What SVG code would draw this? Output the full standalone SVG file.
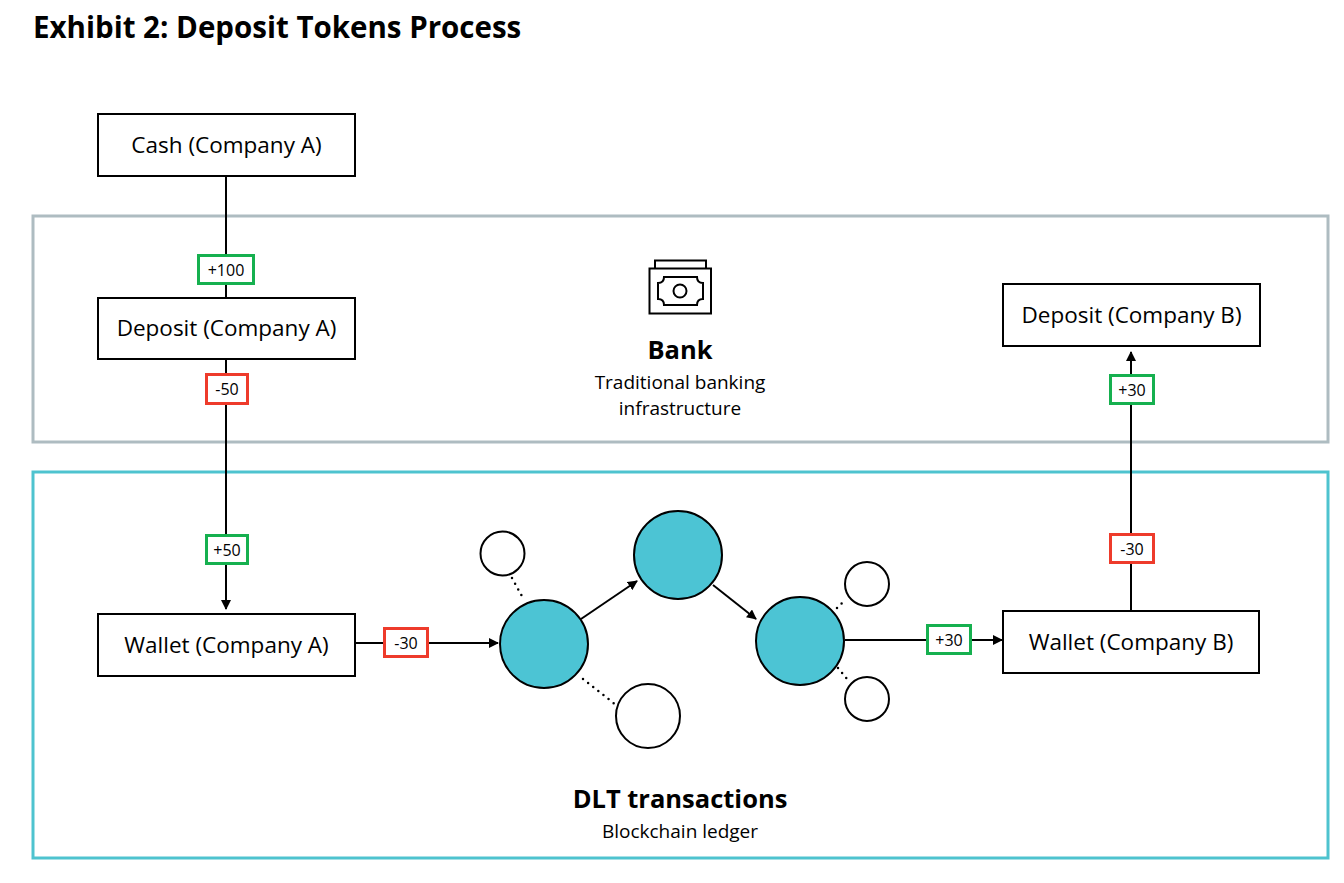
<svg xmlns="http://www.w3.org/2000/svg" width="1344" height="883" viewBox="0 0 1344 883">
<style>
text{font-family:"Open Sans","Noto Sans","Liberation Sans",sans-serif;fill:#000}
.box{fill:#fff;stroke:#000;stroke-width:2}
.lbl{font-size:22.5px;text-anchor:middle;dominant-baseline:central}
.tag{fill:#fff;stroke-width:3}
.g{stroke:#16b04f}
.r{stroke:#ee3b2b}
.tagt{font-size:16px;text-anchor:middle;dominant-baseline:central}
.ln{stroke:#000;stroke-width:2;fill:none}
.dot{stroke:#000;stroke-width:2.5;fill:none;stroke-dasharray:0 6.5;stroke-linecap:round}
.big{fill:#4cc4d4;stroke:#000;stroke-width:2}
.sm{fill:#fff;stroke:#000;stroke-width:2}
.h{font-size:25.5px;font-weight:bold;text-anchor:middle}
.sub{font-size:19px;text-anchor:middle}
</style>
<defs>
<marker id="arr" markerWidth="10" markerHeight="10" refX="9" refY="5" orient="auto" markerUnits="userSpaceOnUse">
<path d="M0,0 L10,5 L0,10 Z" fill="#000"/>
</marker>
</defs>
<rect width="1344" height="883" fill="#fff"/>
<text x="33" y="38" style="font-size:29.5px;font-weight:bold">Exhibit 2: Deposit Tokens Process</text>

<g id="bank-panel">
<rect x="33" y="216" width="1295" height="226" fill="none" stroke="#aebcc1" stroke-width="3"/>
<g id="bank-icon" fill="none" stroke="#000" stroke-width="2">
<rect x="649.5" y="268.5" width="61.5" height="45"/>
<polyline points="655,268.5 655,260.5 706,260.5 706,268.5"/>
<path d="M664,277 L697,277 Q697,283 703,283 L703,299 Q697,299 697,305 L664,305 Q664,299 658,299 L658,283 Q664,283 664,277 Z"/>
<circle cx="680" cy="291" r="6.5"/>
</g>
<text x="680" y="359" class="h">Bank</text>
<text x="680" y="389" class="sub">Traditional banking</text>
<text x="680" y="415" class="sub">infrastructure</text>
</g>

<g id="dlt-panel">
<rect x="33" y="472" width="1295" height="386" fill="none" stroke="#4ec3cf" stroke-width="3"/>
<text x="680" y="808" class="h">DLT transactions</text>
<text x="680" y="838" class="sub">Blockchain ledger</text>
</g>

<g id="connectors">
<line x1="226" y1="176" x2="226" y2="298" class="ln"/>
<line x1="226" y1="359" x2="226" y2="609" class="ln" marker-end="url(#arr)"/>
<line x1="355" y1="643" x2="498" y2="643" class="ln" marker-end="url(#arr)"/>
<line x1="581" y1="619" x2="637" y2="581" class="ln" marker-end="url(#arr)"/>
<line x1="713" y1="585" x2="756" y2="619" class="ln" marker-end="url(#arr)"/>
<line x1="845" y1="640" x2="1002" y2="640" class="ln" marker-end="url(#arr)"/>
<line x1="1131" y1="611" x2="1131" y2="352" class="ln" marker-end="url(#arr)"/>
<line x1="512" y1="578" x2="524" y2="600" class="dot"/>
<line x1="583" y1="679" x2="616" y2="705" class="dot"/>
<line x1="837" y1="608" x2="845" y2="600" class="dot"/>
<line x1="838" y1="668" x2="847" y2="679" class="dot"/>
<g id="tag-p100"><rect x="198.5" y="255.5" width="55" height="28" class="tag g"/><text x="226" y="269.5" class="tagt">+100</text></g>
<g id="tag-m50"><rect x="206.5" y="374.5" width="41" height="29" class="tag r"/><text x="227" y="389" class="tagt">-50</text></g>
<g id="tag-p50"><rect x="206.5" y="535.5" width="41" height="28" class="tag g"/><text x="227" y="549.5" class="tagt">+50</text></g>
<g id="tag-m30a"><rect x="384.5" y="628.5" width="43" height="28" class="tag r"/><text x="406" y="642.5" class="tagt">-30</text></g>
<g id="tag-p30a"><rect x="927.5" y="625.5" width="43" height="28" class="tag g"/><text x="949" y="639.5" class="tagt">+30</text></g>
<g id="tag-m30b"><rect x="1110.5" y="534.5" width="43" height="28" class="tag r"/><text x="1132" y="548.5" class="tagt">-30</text></g>
<g id="tag-p30b"><rect x="1110.5" y="375.5" width="43" height="28" class="tag g"/><text x="1132" y="389.5" class="tagt">+30</text></g>
</g>

<g id="cash-a"><rect x="98" y="114" width="257" height="62" class="box"/><text x="226.5" y="144" class="lbl">Cash (Company A)</text></g>
<g id="deposit-a"><rect x="98" y="298" width="257" height="61" class="box"/><text x="226.5" y="327.5" class="lbl">Deposit (Company A)</text></g>
<g id="wallet-a"><rect x="98" y="614" width="257" height="62" class="box"/><text x="226.5" y="644" class="lbl">Wallet (Company A)</text></g>
<g id="deposit-b"><rect x="1003" y="284" width="257" height="62" class="box"/><text x="1131.5" y="314" class="lbl">Deposit (Company B)</text></g>
<g id="wallet-b"><rect x="1003" y="611" width="256" height="62" class="box"/><text x="1131" y="641" class="lbl">Wallet (Company B)</text></g>

<g id="node-1"><circle cx="544" cy="644" r="44" class="big"/></g>
<g id="node-2"><circle cx="678" cy="555" r="44" class="big"/></g>
<g id="node-3"><circle cx="800" cy="641" r="44" class="big"/></g>
<g id="node-s1"><circle cx="502.5" cy="553.5" r="22" class="sm"/></g>
<g id="node-s2"><circle cx="648" cy="716" r="32" class="sm"/></g>
<g id="node-s3"><circle cx="867" cy="584" r="22" class="sm"/></g>
<g id="node-s4"><circle cx="867" cy="699" r="22" class="sm"/></g>
</svg>
